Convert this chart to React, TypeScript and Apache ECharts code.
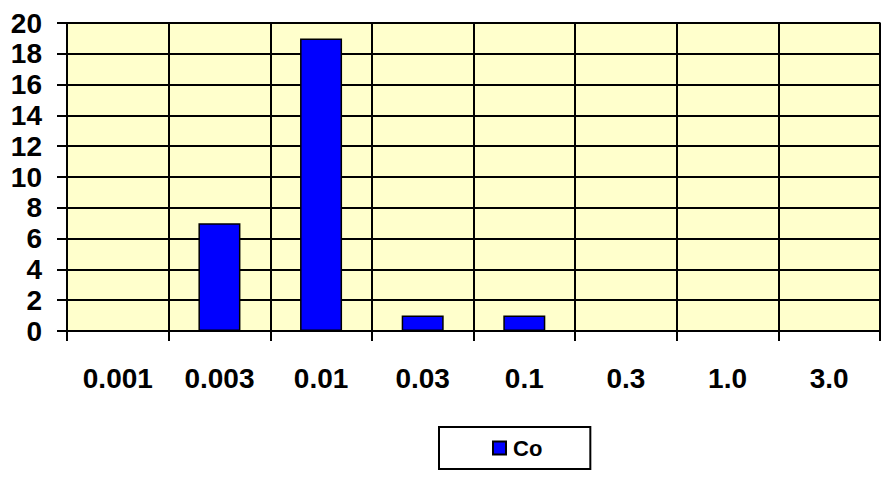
import React, { useEffect, useRef } from "react";
import * as echarts from "echarts";

const categories = ["0.001", "0.003", "0.01", "0.03", "0.1", "0.3", "1.0", "3.0"];
const coValues = [0, 7, 19, 1, 1, 0, 0, 0];
const seriesName = "Co";

export default function App() {
  const ref = useRef<HTMLDivElement>(null);
  useEffect(() => {
    if (!ref.current) return;
    const chart = echarts.init(ref.current, undefined, { renderer: "svg" });
    const font = "'Liberation Sans', Arial, sans-serif";
    chart.setOption({
      animation: false,
      backgroundColor: "#ffffff",
      textStyle: { fontFamily: font },
      grid: {
        left: 67,
        right: 3,
        top: 23,
        bottom: 152,
        show: true,
        backgroundColor: "#FFFFCC",
        borderColor: "#808080",
        borderWidth: 2,
      },
      legend: {
        data: [seriesName],
        left: 439,
        top: 427,
        padding: [10, 48, 10, 53],
        borderColor: "#000000",
        borderWidth: 2,
        itemWidth: 13,
        itemHeight: 13,
        itemGap: 0,
        icon: "rect",
        textStyle: {
          fontSize: 22,
          fontWeight: "bold",
          color: "#000",
          fontFamily: font,
          padding: [0, 0, 0, 2],
        },
      },
      xAxis: {
        type: "category",
        data: categories,
        boundaryGap: true,
        axisLine: { show: true, lineStyle: { color: "#000", width: 2 } },
        axisTick: { show: true, length: 10, alignWithLabel: false, lineStyle: { color: "#000", width: 2 } },
        splitLine: { show: true, interval: 0, lineStyle: { color: "#000", width: 2 } },
        axisLabel: {
          interval: 0,
          margin: 33,
          fontSize: 28,
          fontWeight: "bold",
          color: "#000",
          fontFamily: font,
        },
      },
      yAxis: {
        type: "value",
        min: 0,
        max: 20,
        interval: 2,
        axisLine: { show: true, lineStyle: { color: "#000", width: 2 } },
        axisTick: { show: true, length: 10, lineStyle: { color: "#000", width: 2 } },
        splitLine: { show: true, lineStyle: { color: "#000", width: 2 } },
        axisLabel: {
          margin: 25,
          fontSize: 28,
          fontWeight: "bold",
          color: "#000",
          fontFamily: font,
        },
      },
      series: [
        {
          name: seriesName,
          type: "bar",
          data: coValues,
          barWidth: 42,
          itemStyle: { color: "#0000FF", borderColor: "#000", borderWidth: 1.5 },
        },
      ],
    });
    return () => chart.dispose();
  }, []);
  return (
    <div
      ref={ref}
      style={{ position: "fixed", left: 0, top: 0, width: 883, height: 483, background: "#fff" }}
    />
  );
}
